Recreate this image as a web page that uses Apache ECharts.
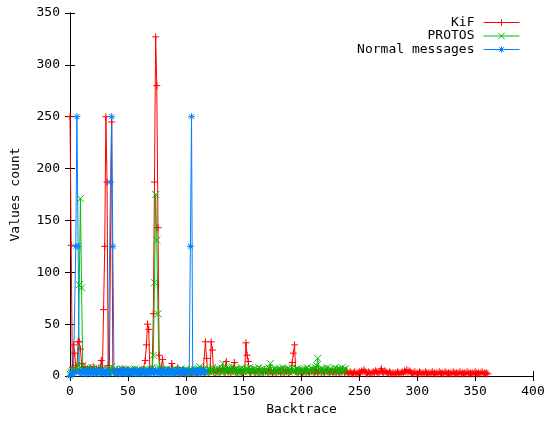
<!DOCTYPE html>
<html>
<head>
<meta charset="utf-8">
<script src="https://cdn.jsdelivr.net/npm/echarts@6/dist/echarts.min.js"></script>
<style>
html,body{margin:0;padding:0;background:#fff;}
#chart{width:549px;height:421px;}
</style>
</head>
<body>
<div id="chart"></div>
<script>
// Series values, index = backtrace number
const kif = [
250,126,8,30,22,10,6,33,33,26,
12,8,6,9,5,7,4,6,8,5,
9,6,4,7,5,8,6,15,6,64,
125,250,187,10,5,4,245,6,4,5,
3,6,4,5,3,7,4,3,5,4,
6,3,4,5,3,4,6,3,5,4,
3,5,4,6,5,15,30,50,45,6,
4,7,60,187,327,280,143,20,5,6,
16,4,5,3,6,4,5,3,12,4,
3,5,4,8,3,4,5,3,4,2,
5,3,4,6,3,4,2,5,3,4,
3,5,4,3,6,4,5,33,17,4,
3,5,33,25,4,6,3,5,4,7,
4,5,6,4,3,14,5,4,6,3,
5,7,13,4,5,3,6,4,5,3,
4,6,32,20,14,4,3,5,6,4,
3,5,4,6,3,5,4,3,6,4,
5,3,4,6,5,3,4,5,3,6,
4,5,3,6,4,3,5,4,6,3,
4,5,13,22,30,5,4,3,6,4,
5,3,4,6,3,5,4,3,5,4,
6,3,4,5,3,4,6,3,5,4,
3,5,4,6,3,4,5,3,4,6,
3,5,4,3,5,4,6,3,4,5,
3,2,4,3,2,3,4,2,3,2,
4,3,5,4,6,4,3,2,4,3,
2,3,4,3,5,4,3,2,5,7,
4,3,5,4,3,2,4,3,2,3,
2,3,2,4,3,2,3,4,2,5,
4,6,3,5,4,3,2,3,4,2,
3,2,4,3,2,3,2,4,3,2,
3,2,3,4,2,3,2,3,2,4,
3,2,3,2,4,3,2,3,2,3,
2,4,3,2,3,2,3,4,2,3,
2,3,2,4,3,2,3,2,3,2,
4,3,2,3,2,3,4,2,3,2,
3,2
];
const protos = [
2,4,3,5,6,4,8,10,88,171,
85,10,6,4,7,5,3,6,4,8,
5,3,6,4,7,3,5,4,6,3,
5,4,7,3,6,4,9,3,4,6,
3,5,4,6,3,7,4,5,3,6,
4,3,5,6,4,3,7,5,4,6,
3,5,4,6,5,3,4,6,5,4,
6,8,20,90,175,131,60,8,5,4,
6,3,5,4,7,3,5,4,6,3,
5,4,6,3,5,4,7,5,3,4,
6,4,5,3,6,4,5,3,6,4,
5,7,9,4,5,3,6,4,5,7,
4,6,5,8,4,6,5,3,7,5,
6,4,12,5,7,4,6,8,5,4,
9,5,6,4,7,5,3,6,8,5,
4,6,5,7,4,8,5,6,4,7,
5,6,4,8,5,3,6,7,4,5,
6,4,8,12,5,6,4,7,5,6,
4,7,5,6,8,4,5,6,7,4,
6,5,8,4,6,5,7,4,6,5,
4,6,5,7,4,8,5,6,4,7,
5,6,8,10,17,5,6,4,7,5,
6,4,8,5,6,7,4,5,6,8,
5,6,4,7,5,8,6,4,7
];
const normal = [
0,3,2,4,3,125,250,125,4,3,
5,2,4,3,6,2,4,5,3,2,
4,6,3,2,5,4,3,6,2,4,
3,5,2,4,3,187,250,125,4,3,
5,2,4,6,3,2,5,4,3,6,
2,4,3,5,2,6,4,3,5,2,
4,3,6,2,5,4,3,2,6,4,
3,5,2,4,6,3,5,2,4,3,
6,2,5,3,4,2,6,3,5,4,
2,3,6,4,5,2,3,4,6,5,
3,4,2,5,125,250,4,3,6,5,
2,4,5,3,6,4,3,5
];
const seriesNames = ['KiF', 'PROTOS', 'Normal messages'];
const xTicks = [0, 50, 100, 150, 200, 250, 300, 350, 400];
const yTicks = [0, 50, 100, 150, 200, 250, 300, 350];

const colors = ['#ff0000', '#00c000', '#0080ff'];
const symbols = [
  'path://M0,5L10,5M5,0L5,10',
  'path://M0,0L10,10M10,0L0,10',
  'path://M0,5L10,5M5,0L5,10M1.5,1.5L8.5,8.5M8.5,1.5L1.5,8.5'
];
const FONT = 'DejaVu Sans Mono';
const toPairs = arr => arr.map((v, i) => [i, v]);
const datasets = [kif, protos, normal];

const chart = echarts.init(document.getElementById('chart'), null, {renderer: 'canvas'});
const tickCommon = {show: true, inside: true, length: 5, lineStyle: {color: '#000', width: 1}};
const lineCommon = {show: true, lineStyle: {color: '#000', width: 1}};
const labelStyle = {color: '#000', fontFamily: FONT, fontSize: 13};

chart.setOption({
  animation: false,
  backgroundColor: '#fff',
  grid: {left: 70, right: 16, top: 13, bottom: 45},
  legend: seriesNames.map((n, i) => ({
    data: [n],
    right: 24,
    top: 11 + i * 13.5,
    itemWidth: 36,
    itemHeight: 8,
    align: 'right',
    lineStyle: {width: 1},
    itemStyle: {borderWidth: 1},
    textStyle: {color: '#000', fontFamily: FONT, fontSize: 13, padding: [0, 4, 0, 0]},
    selectedMode: false
  })),
  xAxis: [{
    type: 'value', min: xTicks[0], max: xTicks[xTicks.length - 1], interval: 50,
    position: 'bottom',
    name: 'Backtrace', nameLocation: 'middle', nameGap: 26,
    nameTextStyle: {color: '#000', fontFamily: FONT, fontSize: 13},
    axisLine: lineCommon, axisTick: tickCommon,
    axisLabel: Object.assign({margin: 9}, labelStyle),
    splitLine: {show: false}
  }, {
    type: 'value', min: 0, max: 400, interval: 50, position: 'top',
    axisLine: lineCommon, axisTick: tickCommon,
    axisLabel: {show: false}, splitLine: {show: false}
  }],
  yAxis: [{
    type: 'value', min: yTicks[0], max: yTicks[yTicks.length - 1], interval: 50,
    position: 'left',
    name: 'Values count', nameLocation: 'middle', nameGap: 48,
    nameTextStyle: {color: '#000', fontFamily: FONT, fontSize: 13},
    axisLine: lineCommon, axisTick: tickCommon,
    axisLabel: Object.assign({margin: 10}, labelStyle),
    splitLine: {show: false}
  }, {
    type: 'value', min: 0, max: 350, interval: 50, position: 'right',
    axisLine: lineCommon, axisTick: tickCommon,
    axisLabel: {show: false}, splitLine: {show: false}
  }],
  series: seriesNames.map((n, i) => ({
    name: n,
    type: 'line',
    xAxisIndex: 0, yAxisIndex: 0,
    data: toPairs(datasets[i]),
    symbol: symbols[i],
    symbolSize: 7,
    showAllSymbol: true,
    color: colors[i],
    lineStyle: {color: colors[i], width: 1},
    itemStyle: {color: colors[i], borderColor: colors[i], borderWidth: 1},
    emphasis: {disabled: true}
  }))
});
</script>
</body>
</html>
